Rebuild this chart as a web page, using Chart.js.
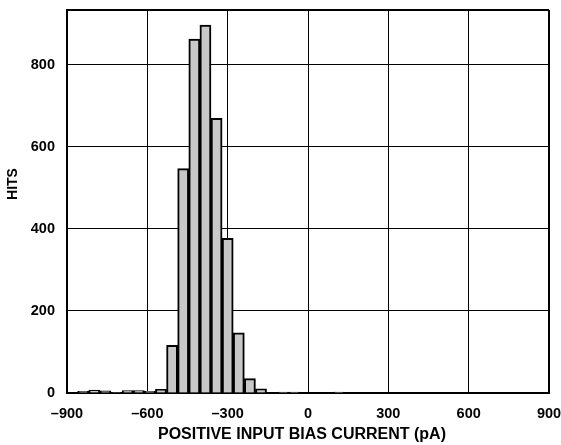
<!DOCTYPE html>
<html>
<head>
<meta charset="utf-8">
<script src="https://cdn.jsdelivr.net/npm/chart.js@4"></script>
<style>
  body { margin: 0; background: #fff; }
  canvas { display: block; }
</style>
</head>
<body>
<canvas id="myChart" width="561" height="445"></canvas>
<script>
// bin centres (pA) and hit counts
var binCenters = [-881, -839.5, -798, -756.5, -715, -673.5, -632, -590.5, -549,
                  -507.5, -466, -424.5, -383, -341.5, -300, -258.5, -217, -175.5,
                  -134, -92.5, -51, -9.5, 32, 73.5, 115];
var hits = [0, 4, 7, 5, 1, 6, 6, 4, 9,
            116, 547, 863, 897, 670, 377, 147, 35, 10,
            0, 2, 2, 0, 0, 0, 2];
var xTicks = [-900, -600, -300, 0, 300, 600, 900];
var yTicks = [0, 200, 400, 600, 800];
var yMax = 934;
var xTitle = 'POSITIVE INPUT BIAS CURRENT (pA)';
var yTitle = 'HITS';

var points = binCenters.map(function (x, i) { return { x: x, y: hits[i] }; });
var tickFont = { family: "'Liberation Sans', Arial, sans-serif", size: 14.5, weight: 'bold' };

// axis titles sit a little off centre in the original, so draw them by hand
const axisTitles = {
    id: 'axisTitles',
    afterDraw: function (chart) {
        var c = chart.ctx;
        c.save();
        c.fillStyle = '#000';
        c.textAlign = 'center';
        c.textBaseline = 'middle';
        c.font = "bold 16px 'Liberation Sans', Arial, sans-serif";
        c.fillText(xTitle, 302, 435);
        c.font = "bold 14px 'Liberation Sans', Arial, sans-serif";
        c.translate(13, 184);
        c.rotate(-Math.PI / 2);
        c.fillText(yTitle, 0, 0);
        c.restore();
    }
};

const ctx = document.getElementById('myChart').getContext('2d');
const myChart = new Chart(ctx, {
    type: 'bar',
    data: {
        datasets: [{
            label: 'Hits',
            data: points,
            backgroundColor: '#c8c8c8',
            borderColor: '#000',
            borderWidth: 2,
            barPercentage: 1,
            categoryPercentage: 1
        }]
    },
    options: {
        responsive: false,
        animation: false,
        layout: { padding: { top: 10, right: 12, left: 0, bottom: 0 } },
        plugins: { legend: { display: false }, tooltip: { enabled: false } },
        scales: {
            x: {
                type: 'linear',
                min: -900,
                max: 900,
                offset: false,
                afterBuildTicks: function (scale) {
                    scale.ticks = xTicks.map(function (v) { return { value: v }; });
                },
                afterFit: function (scale) {
                    scale.height = 52;
                    scale.paddingLeft = 0;
                    scale.paddingRight = 0;
                },
                ticks: {
                    color: '#000',
                    font: tickFont,
                    padding: 12,
                    maxRotation: 0,
                    callback: function (v) { return String(v).replace('-', '\u2013'); }
                },
                grid: {
                    color: '#000',
                    offset: false,
                    drawTicks: false,
                    lineWidth: function (c) { return c.tick && c.tick.value === 900 ? 2 : 1; }
                },
                border: { color: '#000', width: 2 }
            },
            y: {
                min: 0,
                max: yMax,
                afterBuildTicks: function (scale) {
                    scale.ticks = yTicks.concat([yMax]).map(function (v) { return { value: v }; });
                },
                afterFit: function (scale) {
                    scale.width = 67;
                    scale.paddingTop = 0;
                    scale.paddingBottom = 0;
                },
                ticks: {
                    color: '#000',
                    font: tickFont,
                    padding: 12,
                    callback: function (v) { return v === yMax ? '' : v; }
                },
                grid: {
                    color: '#000',
                    drawTicks: false,
                    lineWidth: function (c) { return c.tick && c.tick.value === yMax ? 2 : 1; }
                },
                border: { color: '#000', width: 2 }
            }
        }
    },
    plugins: [axisTitles]
});
</script>
</body>
</html>
